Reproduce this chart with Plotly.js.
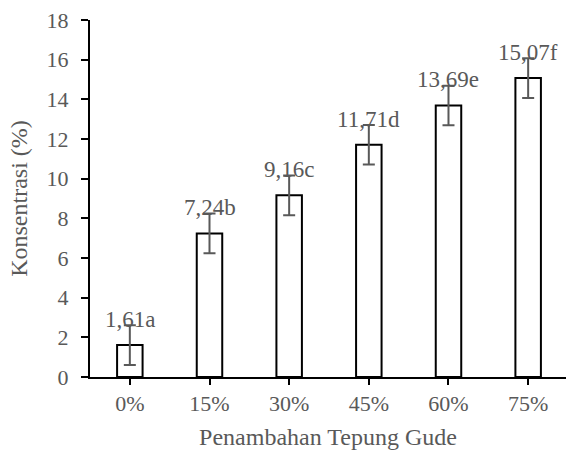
<!DOCTYPE html>
<html>
<head>
<meta charset="utf-8">
<script src="https://cdn.plot.ly/plotly-3.0.1.min.js"></script>
<style>html,body{margin:0;padding:0;background:#fff;}#chart{width:566px;height:453px;}</style>
</head>
<body>
<div id="chart"></div>
<script>
const categories = ["0%", "15%", "30%", "45%", "60%", "75%"];
const values = [1.61, 7.24, 9.16, 11.71, 13.69, 15.07];
const errors = [1.0, 1.0, 1.0, 1.0, 1.0, 1.0];
const labels = ["1,61a", "7,24b", "9,16c", "11,71d", "13,69e", "15,07f"];
const yTicks = [0, 2, 4, 6, 8, 10, 12, 14, 16, 18];

const gray = "#595959";
const font = "Liberation Serif";

const trace = {
  type: "bar",
  x: categories,
  y: values,
  width: 0.32,
  marker: { color: "#ffffff", line: { color: "#000000", width: 2 } },
  error_y: { type: "data", array: errors, visible: true, color: gray, thickness: 2, width: 6 },
  hoverinfo: "none"
};

const annotations = categories.map((c, i) => ({
  x: c, y: values[i], xref: "x", yref: "y",
  text: labels[i], showarrow: false,
  yanchor: "bottom", yshift: 11,
  font: { family: font, size: 23, color: gray }
}));

const layout = {
  width: 566, height: 453,
  margin: { l: 90, r: 0, t: 20, b: 76 },
  paper_bgcolor: "#ffffff", plot_bgcolor: "#ffffff",
  showlegend: false,
  font: { family: font, size: 22, color: gray },
  xaxis: {
    type: "category",
    range: [-0.5, 5.475],
    showline: true, linecolor: "#000000", linewidth: 2,
    ticks: "outside", ticklen: 6, tickwidth: 2, tickcolor: "#000000",
    showgrid: false, zeroline: false,
    tickfont: { family: font, size: 22, color: gray },
    title: { text: "Penambahan Tepung Gude", font: { family: font, size: 24, color: gray }, standoff: 13 }
  },
  yaxis: {
    range: [0, 18],
    tickvals: yTicks,
    ticktext: yTicks.map(String),
    showline: true, linecolor: "#000000", linewidth: 2,
    ticks: "outside", ticklen: 7, tickwidth: 2, tickcolor: "#000000",
    ticklabelstandoff: 8,
    showgrid: false, zeroline: false,
    tickfont: { family: font, size: 22, color: gray },
    title: { text: "Konsentrasi (%)", font: { family: font, size: 24, color: gray }, standoff: 12 }
  },
  annotations: annotations
};

Plotly.newPlot("chart", [trace], layout, { staticPlot: true, displayModeBar: false });
</script>
</body>
</html>
